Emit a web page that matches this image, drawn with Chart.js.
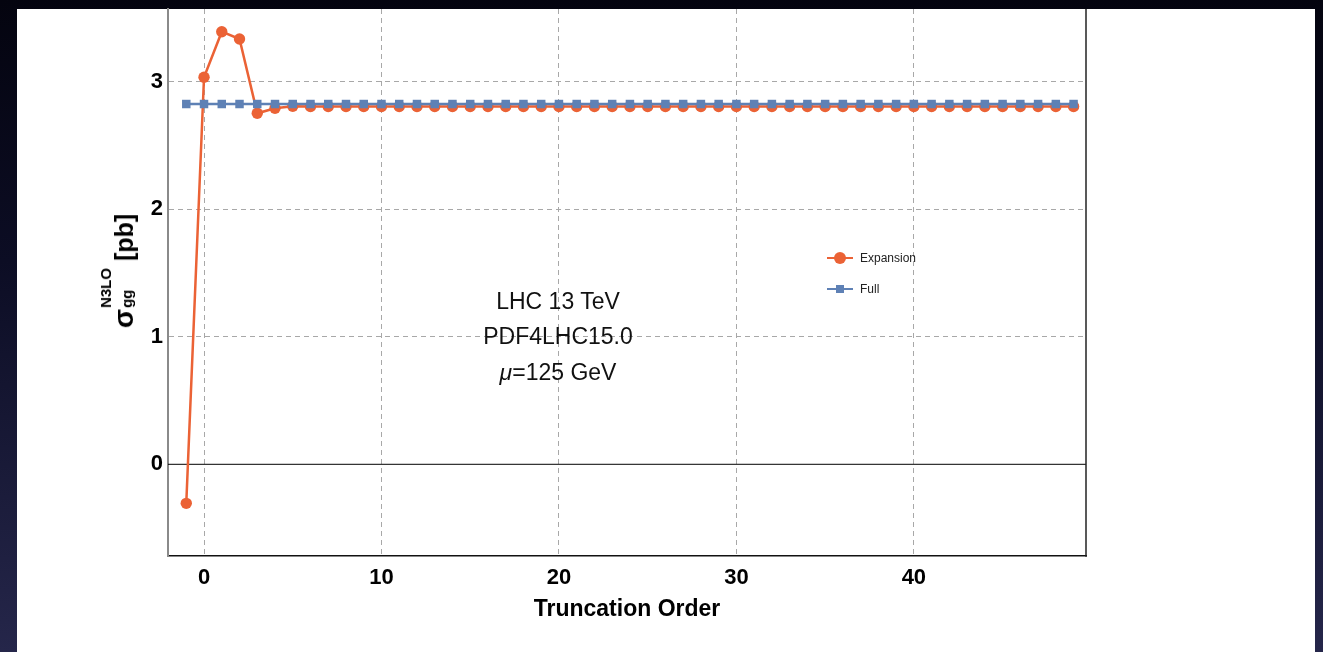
<!DOCTYPE html>
<html>
<head>
<meta charset="utf-8">
<script src="https://cdn.jsdelivr.net/npm/chart.js@4.4.0/dist/chart.umd.min.js"></script>
<style>
html,body{margin:0;padding:0;width:1323px;height:652px;overflow:hidden;background:linear-gradient(#04040f,#0c0d24 40%,#25264a);}
#paper{position:absolute;left:17px;top:9px;width:1298px;height:643px;background:#fff;}
#wrap{position:absolute;left:0;top:0;width:1323px;height:652px;}
canvas{display:block;}
.txt{font-family:"Liberation Sans",Arial,Helvetica,sans-serif;}
.note{position:absolute;font-size:23px;color:#111;white-space:nowrap;transform:translate(-50%,-50%);line-height:1;}
#ytitle{position:absolute;left:123px;top:271px;transform:translate(-50%,-50%) rotate(-90deg);white-space:nowrap;font-weight:bold;font-size:25px;color:#000;line-height:1;}
#ytitle .sig{font-size:28px;}
#ytitle .ss{position:relative;display:inline-block;width:44px;height:1em;vertical-align:baseline;}
#ytitle .ss span{position:absolute;left:1px;font-size:15px;}
#ytitle .sup{top:-10px;}
#ytitle .sub{top:11px;}
#ytitle .pb{margin-left:4px;}
#legend{position:absolute;left:827px;top:246px;font-size:12px;color:#222;}
.row{position:relative;height:31px;}
.sym{position:absolute;left:0;top:12px;width:26px;height:0;}
.sym .ln{position:absolute;left:0;top:-1.25px;width:26px;height:2.5px;}
.sym .mk{position:absolute;}
.lab{position:absolute;left:33px;top:5px;}
</style>
</head>
<body>
<div id="paper"></div>
<div id="wrap"><canvas id="c" width="1323" height="652"></canvas></div>
<div id="ytitle" class="txt"><span class="sig">σ</span><span class="ss"><span class="sup">N3LO</span><span class="sub">gg</span></span><span class="pb">[pb]</span></div>
<div class="note txt" style="left:558px;top:301px;">LHC 13 TeV</div>
<div class="note txt" style="left:558px;top:336px;">PDF4LHC15.0</div>
<div class="note txt" style="left:558px;top:372px;"><i>μ</i>=125 GeV</div>
<div id="legend" class="txt"></div>
<script>
// ---- data ----
const orders = [-1,0,1,2,3,4,5,6,7,8,9,10,11,12,13,14,15,16,17,18,19,20,21,22,23,24,25,26,27,28,29,30,31,32,33,34,35,36,37,38,39,40,41,42,43,44,45,46,47,48,49];
const expansion = [-0.306,3.035,3.392,3.335,2.752,2.792,2.808,2.806,2.806,2.806,2.806,2.806,2.806,2.806,2.806,2.806,2.806,2.806,2.806,2.806,2.806,2.806,2.806,2.806,2.806,2.806,2.806,2.806,2.806,2.806,2.806,2.806,2.806,2.806,2.806,2.806,2.806,2.806,2.806,2.806,2.806,2.806,2.806,2.806,2.806,2.806,2.806,2.806,2.806,2.806,2.806];
const full = [2.825,2.825,2.825,2.825,2.825,2.825,2.825,2.825,2.825,2.825,2.825,2.825,2.825,2.825,2.825,2.825,2.825,2.825,2.825,2.825,2.825,2.825,2.825,2.825,2.825,2.825,2.825,2.825,2.825,2.825,2.825,2.825,2.825,2.825,2.825,2.825,2.825,2.825,2.825,2.825,2.825,2.825,2.825,2.825,2.825,2.825,2.825,2.825,2.825,2.825,2.825];
const xTicks = [0,10,20,30,40];
const yTicks = [0,1,2,3];
const seriesNames = ['Expansion','Full'];
const xTitle = 'Truncation Order';

const FONT = '"Liberation Sans", Arial, Helvetica, sans-serif';
const C_EXP = '#EB6235', C_FULL = '#5E81B5';

const framePlugin = {
  id:'frame',
  beforeDatasetsDraw(chart){
    const {ctx, chartArea:a, scales:{y}} = chart;
    const y0 = y.getPixelForValue(0);
    ctx.save();
    ctx.strokeStyle = '#000'; ctx.lineWidth = 1;
    ctx.beginPath(); ctx.moveTo(a.left, y0); ctx.lineTo(a.right, y0); ctx.stroke();
    ctx.lineWidth = 1.5; ctx.strokeStyle = '#222';
    ctx.beginPath(); ctx.moveTo(a.right, a.top); ctx.lineTo(a.right, a.bottom+0.75); ctx.stroke();
    ctx.restore();
  }
};

const chart = new Chart(document.getElementById('c'), {
  type:'line',
  data:{
    datasets:[
      {label:seriesNames[0], data:orders.map((o,i)=>({x:o,y:expansion[i]})), borderColor:C_EXP, backgroundColor:C_EXP,
       borderWidth:2.5, pointStyle:'circle', pointRadius:5.7, pointBorderWidth:0, tension:0, order:2},
      {label:seriesNames[1], data:orders.map((o,i)=>({x:o,y:full[i]})), borderColor:C_FULL, backgroundColor:C_FULL,
       borderWidth:2.5, pointStyle:'rect', pointRadius:6, pointBorderWidth:0, tension:0, order:1}
    ]
  },
  options:{
    responsive:false, animation:false,
    layout:{padding:{top:9,right:237,left:0,bottom:0}},
    plugins:{legend:{display:false}, tooltip:{enabled:false}},
    scales:{
      x:{type:'linear', min:-2.03, max:49.7,
        afterBuildTicks(s){ s.ticks = xTicks.map(v=>({value:v})); },
        afterFit(s){ s.height = 96; s.paddingLeft = 0; s.paddingRight = 0; },
        grid:{color:'#a8a8a8', lineWidth:1, drawTicks:false},
        border:{display:true, color:'#111', width:1.5, dash:[5,4]},
        ticks:{color:'#000', padding:9, font:{family:FONT, size:22, weight:'bold'}, maxRotation:0},
        title:{display:true, text:xTitle, color:'#000', font:{family:FONT, size:23, weight:'bold'}, padding:{top:0,bottom:29}}
      },
      y:{type:'linear', min:-0.719, max:3.57,
        afterBuildTicks(s){ s.ticks = yTicks.map(v=>({value:v})); },
        afterFit(s){ s.width = 168; s.paddingTop = 0; s.paddingBottom = 0; },
        grid:{color:(c)=> (c.tick && c.tick.value===0) ? 'rgba(0,0,0,0)' : '#a8a8a8', lineWidth:1, drawTicks:false},
        border:{display:true, color:'#8a8a8a', width:2, dash:[5,4]},
        ticks:{color:'#000', padding:5, font:{family:FONT, size:22, weight:'bold'}}
      }
    }
  },
  plugins:[framePlugin]
});

// legend built from datasets
(function(){
  const leg = document.getElementById('legend');
  chart.data.datasets.forEach(ds=>{
    const row = document.createElement('div'); row.className='row';
    const sym = document.createElement('div'); sym.className='sym';
    const ln = document.createElement('div'); ln.className='ln'; ln.style.background = ds.borderColor;
    const mk = document.createElement('div'); mk.className='mk'; mk.style.background = ds.backgroundColor;
    if (ds.pointStyle==='circle'){ mk.style.cssText += 'left:7px;top:-6px;width:12px;height:12px;border-radius:50%;'; }
    else { mk.style.cssText += 'left:9px;top:-4px;width:8px;height:8px;'; }
    sym.appendChild(ln); sym.appendChild(mk);
    const lab = document.createElement('div'); lab.className='lab'; lab.textContent = ds.label;
    row.appendChild(sym); row.appendChild(lab); leg.appendChild(row);
  });
})();
</script>
</body>
</html>
